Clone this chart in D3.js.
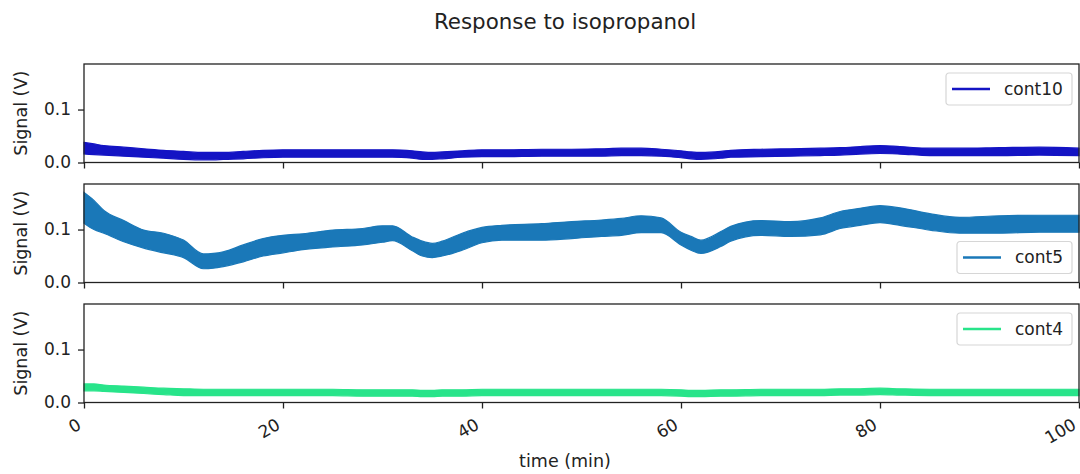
<!DOCTYPE html>
<html>
<head>
<meta charset="utf-8">
<script src="https://cdn.jsdelivr.net/npm/d3@7"></script>
<style>
  body { margin: 0; background: #fff; }
  svg { display: block; font-family: "DejaVu Sans", sans-serif; }
</style>
</head>
<body>
<svg id="chart" width="1080" height="474"></svg>
<script>
var times = [0, 1, 2, 4, 6, 8, 10, 12, 13, 14, 16, 18, 20, 22, 25, 28, 30, 31, 33, 34, 35, 36, 38, 40,
             42, 46, 49, 52, 54, 56, 58, 60, 61, 62, 64, 65, 68, 71, 74, 76, 78, 80, 82, 85, 88, 92, 96, 100];

// cont10 lower / upper envelope (V)
var cont10Lo = [0.016, 0.015, 0.014, 0.012, 0.010, 0.008, 0.006, 0.005, 0.005, 0.006, 0.007, 0.009, 0.010, 0.010,
                0.010, 0.010, 0.010, 0.010, 0.008, 0.006, 0.006, 0.007, 0.010, 0.011, 0.011, 0.012, 0.012, 0.012,
                0.013, 0.013, 0.012, 0.009, 0.007, 0.006, 0.008, 0.010, 0.011, 0.012, 0.013, 0.014, 0.016, 0.017,
                0.016, 0.013, 0.013, 0.013, 0.014, 0.013];
var cont10Hi = [0.038, 0.035, 0.032, 0.029, 0.026, 0.023, 0.021, 0.019, 0.019, 0.019, 0.021, 0.023, 0.024, 0.024,
                0.024, 0.024, 0.024, 0.024, 0.022, 0.020, 0.019, 0.020, 0.022, 0.024, 0.024, 0.025, 0.025, 0.026,
                0.027, 0.027, 0.025, 0.022, 0.020, 0.019, 0.021, 0.023, 0.025, 0.026, 0.027, 0.028, 0.030, 0.032,
                0.030, 0.027, 0.027, 0.028, 0.029, 0.027];

// cont5 lower / upper envelope (V)
var cont5Lo = [0.112, 0.100, 0.093, 0.077, 0.065, 0.056, 0.047, 0.026, 0.027, 0.030, 0.039, 0.050, 0.056, 0.062,
               0.067, 0.071, 0.076, 0.079, 0.060, 0.050, 0.047, 0.050, 0.061, 0.075, 0.080, 0.080, 0.083, 0.087,
               0.089, 0.094, 0.094, 0.071, 0.061, 0.055, 0.068, 0.078, 0.089, 0.087, 0.090, 0.102, 0.108, 0.113,
               0.108, 0.099, 0.093, 0.093, 0.095, 0.095];
var cont5Hi = [0.170, 0.155, 0.136, 0.117, 0.099, 0.093, 0.080, 0.054, 0.055, 0.058, 0.071, 0.083, 0.089, 0.092,
               0.099, 0.102, 0.107, 0.107, 0.086, 0.078, 0.074, 0.078, 0.093, 0.104, 0.108, 0.111, 0.115, 0.118,
               0.121, 0.126, 0.122, 0.095, 0.087, 0.080, 0.096, 0.106, 0.117, 0.115, 0.122, 0.134, 0.140, 0.145,
               0.141, 0.130, 0.123, 0.126, 0.127, 0.127];

// cont4 lower / upper envelope (V)
var cont4Lo = [0.022, 0.022, 0.021, 0.019, 0.017, 0.015, 0.013, 0.013, 0.013, 0.013, 0.013, 0.013, 0.013, 0.013,
               0.013, 0.012, 0.012, 0.012, 0.012, 0.011, 0.011, 0.012, 0.012, 0.013, 0.013, 0.013, 0.013, 0.013,
               0.013, 0.013, 0.013, 0.012, 0.011, 0.011, 0.012, 0.012, 0.013, 0.013, 0.013, 0.014, 0.014, 0.015,
               0.014, 0.013, 0.013, 0.013, 0.013, 0.013];
var cont4Hi = [0.035, 0.035, 0.033, 0.031, 0.029, 0.027, 0.026, 0.025, 0.025, 0.025, 0.025, 0.025, 0.025, 0.025,
               0.025, 0.024, 0.024, 0.024, 0.024, 0.023, 0.023, 0.024, 0.024, 0.025, 0.025, 0.025, 0.025, 0.025,
               0.025, 0.025, 0.025, 0.024, 0.023, 0.023, 0.024, 0.024, 0.025, 0.025, 0.025, 0.026, 0.026, 0.027,
               0.026, 0.025, 0.025, 0.025, 0.025, 0.025];

var seriesNames = ["cont10", "cont5", "cont4"];
var seriesColors = ["#1414c4", "#1a78b8", "#28e48a"];
var legendCorner = ["top", "bottom", "top"];
var xTicks = [0, 20, 40, 60, 80, 100];
var yTicks = [0.0, 0.1];

var lows = [cont10Lo, cont5Lo, cont4Lo];
var highs = [cont10Hi, cont5Hi, cont4Hi];

var svg = d3.select("#chart");
var left = 84, right = 1079, panelH = 98.5;
var panelTops = [64, 184, 304];
var ink = "#222";

var x = d3.scaleLinear().domain([0, 100]).range([left, right]);

svg.append("text")
    .attr("x", 565).attr("y", 29)
    .attr("text-anchor", "middle")
    .attr("font-size", 21.4)
    .attr("fill", ink)
    .text("Response to isopropanol");

seriesNames.forEach(function(name, i) {
  var top = panelTops[i], bottom = top + panelH;
  var y = d3.scaleLinear().domain([0, 0.186]).range([bottom, top]);
  var g = svg.append("g");

  var band = times.map(function(t, k) { return { t: t, lo: lows[i][k], hi: highs[i][k] }; });
  var area = d3.area()
      .x(function(d) { return x(d.t); })
      .y0(function(d) { return y(d.lo); })
      .y1(function(d) { return y(d.hi); })
      .curve(d3.curveMonotoneX);
  g.append("path")
      .attr("d", area(band))
      .attr("fill", seriesColors[i])
      .attr("stroke", seriesColors[i])
      .attr("stroke-width", 1.2);

  // axes
  var xAxis = d3.axisBottom(x).tickValues(xTicks).tickSize(6).tickFormat("");
  var xg = g.append("g").attr("transform", "translate(0," + bottom + ")").call(xAxis);
  var yAxis = d3.axisLeft(y).tickValues(yTicks).tickSize(6).tickPadding(7).tickFormat(d3.format(".1f"));
  var yg = g.append("g").attr("transform", "translate(" + left + ",0)").call(yAxis);
  [xg, yg].forEach(function(a) {
    a.select(".domain").remove();
    a.selectAll(".tick line").attr("stroke", ink).attr("stroke-width", 1.3);
    a.selectAll("text").attr("font-size", 17).attr("fill", ink).attr("font-family", "DejaVu Sans");
  });

  g.append("rect")
      .attr("x", left).attr("y", top)
      .attr("width", right - left).attr("height", panelH)
      .attr("fill", "none").attr("stroke", ink).attr("stroke-width", 1.3);

  g.append("text")
      .attr("transform", "translate(27," + (top + panelH / 2) + ") rotate(-90)")
      .attr("text-anchor", "middle")
      .attr("font-size", 17.5)
      .attr("fill", ink)
      .text("Signal (V)");

  // legend
  var boxW = name.length > 5 ? 126 : 115, boxH = 32;
  var bx = right - 7 - boxW;
  var by = legendCorner[i] === "top" ? top + 9 : bottom - 9 - boxH;
  var lg = svg.append("g").attr("transform", "translate(" + bx + "," + by + ")");
  lg.append("rect")
      .attr("width", boxW).attr("height", boxH).attr("rx", 3)
      .attr("fill", "#fff").attr("fill-opacity", 0.8)
      .attr("stroke", "#d6d6d6").attr("stroke-width", 1.2);
  lg.append("line")
      .attr("x1", 6).attr("x2", 44).attr("y1", boxH / 2).attr("y2", boxH / 2)
      .attr("stroke", seriesColors[i]).attr("stroke-width", 2.5);
  lg.append("text")
      .attr("x", 58).attr("y", boxH / 2).attr("dy", "0.35em")
      .attr("font-size", 17).attr("fill", ink)
      .text(name);

  if (i === seriesNames.length - 1) {
    g.selectAll(".xlab")
      .data(xTicks)
      .enter().append("text")
        .attr("class", "xlab")
        .attr("transform", function(d) { return "translate(" + (x(d) - 8) + ",417) rotate(-30)"; })
        .attr("dy", "0.75em")
        .attr("text-anchor", "end")
        .attr("font-size", 17)
        .attr("fill", ink)
        .text(function(d) { return d; });
  }
});

svg.append("text")
    .attr("x", 565).attr("y", 467)
    .attr("text-anchor", "middle")
    .attr("font-size", 17.5)
    .attr("fill", ink)
    .text("time (min)");
</script>
</body>
</html>
